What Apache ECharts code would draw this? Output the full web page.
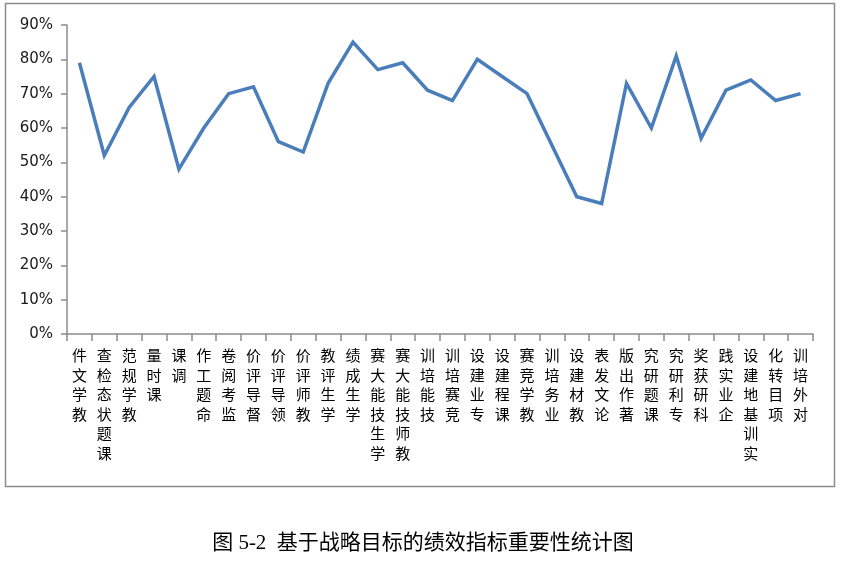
<!DOCTYPE html>
<html>
<head>
<meta charset="utf-8">
<script src="https://cdn.jsdelivr.net/npm/echarts@6/dist/echarts.min.js"></script>
<style>
    html, body { margin: 0; padding: 0; background: #fff; }
    #main { width: 846px; height: 561px; }
</style>
</head>
<body>
<div id="main"></div>
<script>
// 指标名称
var categories = ['教学文件', '课题状态检查', '教学规范', '课时量', '调课', '命题工作', '监考阅卷', '督导评价',
    '领导评价', '教师评价', '学生评教', '学生成绩', '学生技能大赛', '教师技能大赛', '技能培训', '竞赛培训',
    '专业建设', '课程建设', '教学竞赛', '业务培训', '教材建设', '论文发表', '著作出版', '课题研究',
    '专利研究', '科研获奖', '企业实践', '实训基地建设', '项目转化', '对外培训'];
// 重要性（%）
var importance = [79, 52, 66, 75, 48, 60, 70, 72, 56, 53, 73, 85, 77, 79, 71, 68,
    80, 75, 70, 55, 40, 38, 73, 60, 81, 57, 71, 74, 68, 70];
var yMin = 0, yMax = 90, yStep = 10;
var caption = '图 5-2  基于战略目标的绩效指标重要性统计图';

var myChart = echarts.init(document.getElementById('main'));
var option = {
    animation: false,
    title: {
        text: caption,
        left: 'center',
        top: 528,
        textStyle: {
            fontFamily: '"Liberation Serif", "Noto Sans CJK SC", serif',
            fontWeight: 'normal',
            fontSize: 21,
            color: '#000'
        }
    },
    // 外框
    graphic: [{
        type: 'rect',
        shape: { x: 5.5, y: 3.5, width: 829, height: 483 },
        style: { fill: 'none', stroke: '#8c8c8c', lineWidth: 1.5 },
        silent: true
    }],
    grid: { left: 67, right: 33, top: 25, bottom: 227 },
    xAxis: {
        type: 'category',
        data: categories,
        boundaryGap: true,
        axisLine: { lineStyle: { color: '#8c8c8c', width: 1.5 } },
        axisTick: { show: true, length: 7, interval: 0, lineStyle: { color: '#8c8c8c', width: 1.5 } },
        axisLabel: {
            interval: 0,
            margin: 12,
            verticalAlign: 'top',
            fontFamily: '"Noto Sans CJK SC", sans-serif',
            fontSize: 15,
            lineHeight: 19.5,
            color: '#000',
            // 竖排，自下而上读
            formatter: function (v) { return v.split('').reverse().join('\n'); }
        }
    },
    yAxis: {
        type: 'value',
        min: yMin,
        max: yMax,
        interval: yStep,
        splitLine: { show: false },
        axisLine: { show: true, lineStyle: { color: '#8c8c8c', width: 1.5 } },
        axisTick: { show: true, length: 6, lineStyle: { color: '#8c8c8c', width: 1.5 } },
        axisLabel: {
            margin: 14,
            fontFamily: '"DejaVu Sans", sans-serif',
            fontSize: 15,
            color: '#1a1a1a',
            formatter: '{value}%'
        }
    },
    series: [{
        type: 'line',
        data: importance,
        showSymbol: false,
        symbol: 'none',
        lineStyle: { color: '#4A7EBB', width: 3.5, join: 'miter' },
        itemStyle: { color: '#4A7EBB' }
    }]
};
myChart.setOption(option);
</script>
</body>
</html>
